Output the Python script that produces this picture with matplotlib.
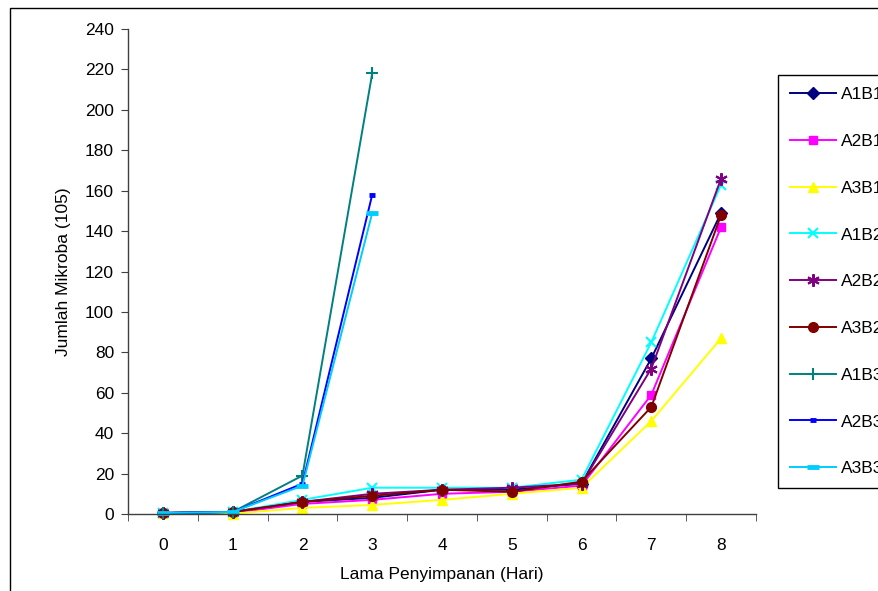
import matplotlib

matplotlib.use("Agg")
import matplotlib.pyplot as plt
from matplotlib.patches import Rectangle

plt.rcParams["font.family"] = ["Liberation Sans", "DejaVu Sans"]
plt.rcParams["font.size"] = 12.5

days = [0, 1, 2, 3, 4, 5, 6, 7, 8]
day_labels = ["0", "1", "2", "3", "4", "5", "6", "7", "8"]

a1b1 = [0.5, 1, 6, 8, 12, 12, 15, 77, 149]
a2b1 = [0.5, 0.5, 5, 7, 10, 11, 14, 59, 142]
a3b1 = [0.3, 0.2, 3, 4.5, 7, 10, 13, 46, 87]
a1b2 = [0.5, 1, 7, 13, 13, 13, 17, 85, 163]
a2b2 = [0.5, 1, 6, 10, 12, 13, 15, 72, 166]
a3b2 = [0.5, 1, 6, 9, 12, 11, 16, 53, 148]
a1b3 = [0.5, 1, 19, 218]
a2b3 = [0.5, 1, 15, 158]
a3b3 = [0.5, 1, 14, 149]

series = [
    ("A1B1", a1b1, "#000080", "D", 6, 1),
    ("A2B1", a2b1, "#FF00FF", "s", 6, 1),
    ("A3B1", a3b1, "#FFFF00", "^", 7, 1),
    ("A1B2", a1b2, "#00FFFF", "x", 7, 1.5),
    ("A2B2", a2b2, "#800080", (6, 2, 0), 9, 1.5),
    ("A3B2", a3b2, "#800000", "o", 7, 1),
    ("A1B3", a1b3, "#008080", "+", 9, 1.5),
    ("A2B3", a2b3, "#0000FF", "_", 5, 3.5),
    ("A3B3", a3b3, "#00CCFF", "_", 8, 3.5),
]

fig = plt.figure(figsize=(8.79, 5.91), dpi=100)
ax = fig.add_axes([128 / 879, 1 - 514 / 591, (756 - 128) / 879, (514 - 29) / 591])

for name, vals, color, marker, ms, mew in series:
    ax.plot(days[: len(vals)], vals, color=color, linewidth=1.4, marker=marker,
            markersize=ms, markeredgewidth=mew, markerfacecolor=color,
            markeredgecolor=color, label=name, clip_on=False)

ax.set_xlim(-0.5, 8.5)
ax.set_ylim(0, 240)
ax.set_yticks(range(0, 241, 20))
ax.set_xticks(days)
ax.set_xticklabels(day_labels)
ax.set_xticks([d - 0.5 for d in days] + [8.5], minor=True)
ax.tick_params(axis="x", which="major", length=0, pad=17)
ax.tick_params(axis="x", which="minor", length=5, direction="out", color="#404040")
ax.tick_params(axis="y", length=5, direction="out", color="#404040", pad=5)

for side in ("top", "right"):
    ax.spines[side].set_visible(False)
for side in ("left", "bottom"):
    ax.spines[side].set_color("#404040")
    ax.spines[side].set_linewidth(1)

ax.set_xlabel("Lama Penyimpanan (Hari)", labelpad=10)
ax.set_ylabel("Jumlah Mikroba (105)", labelpad=10)

leg = fig.legend(loc="upper left", bbox_to_anchor=(778 / 879, 1 - 75 / 591),
                 frameon=True, fancybox=False, edgecolor="black", framealpha=1,
                 labelspacing=1.82, handlelength=2.65, handletextpad=0.25,
                 borderpad=0.7, borderaxespad=0)
leg.get_frame().set_linewidth(1)

fig.patches.append(Rectangle((10 / 879, -0.1), 1.2, 1 - 8 / 591 + 0.1,
                             transform=fig.transFigure, fill=False,
                             edgecolor="black", linewidth=1))

fig.savefig("out.png", dpi=100)
